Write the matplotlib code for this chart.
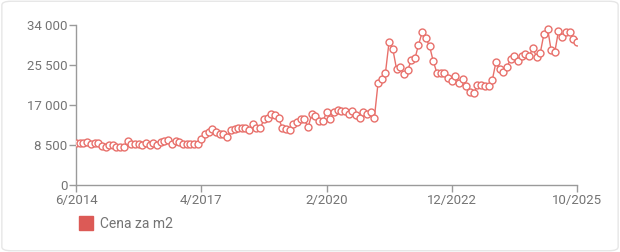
import numpy as np
import pandas as pd
import matplotlib
matplotlib.use('Agg')
import matplotlib.pyplot as plt
import matplotlib.dates as mdates
from matplotlib.lines import Line2D
from matplotlib.patches import FancyBboxPatch

# monthly price per m2, 6/2014 .. 10/2025
prices = [
    9070, 9070, 9070, 9200, 8850, 9000, 9000,                    # 2014
    8360, 8150, 8500, 8500, 8150, 8150, 8150, 9350, 8850, 8850, 8850, 8570,   # 2015
    9070, 8570, 9000, 8570, 9200, 9420, 9700, 8850, 9420, 9200, 8850, 8850,   # 2016
    8710, 8850, 8850, 9900, 11000, 11300, 12000, 11300, 10840, 10840, 10200, 11700,  # 2017
    11900, 12100, 12100, 12100, 11700, 12960, 12100, 12100, 14000, 14200, 15100, 14900,  # 2018
    14200, 12100, 11900, 11700, 12960, 13400, 14000, 14000, 12300, 15100, 14700, 13600,  # 2019
    13600, 15500, 14000, 15500, 15900, 15700, 15700, 15100, 15700, 14900, 14200, 15500,  # 2020
    15100, 15500, 14200, 21700, 22500, 23800, 30400, 28900, 24650, 25100, 23600, 24400,  # 2021
    26560, 27000, 29750, 32500, 31200, 29500, 26350, 23800, 23800, 23800, 22700, 22100,  # 2022
    23160, 21700, 22500, 21000, 19800, 19550, 21250, 21250, 21000, 21000, 22300, 26100,  # 2023
    24650, 24000, 25100, 26800, 27400, 26350, 27400, 27800, 27400, 29100, 27200, 28000,  # 2024
    32100, 33150, 28700, 28300, 32700, 31450, 32500, 32500, 31000, 30400,              # 2025
]
months = pd.date_range('2014-06-01', periods=len(prices), freq='MS')

y_ticks = [0, 8500, 17000, 25500, 34000]
x_tick_dates = pd.to_datetime(['2014-06-01', '2017-04-01', '2020-02-01', '2022-12-01', '2025-10-01'])
x_tick_labels = ['6/2014', '4/2017', '2/2020', '12/2022', '10/2025']
series_name = 'Cena za m2'

line_col = '#e8706b'
legend_col = '#dc5a56'
text_col = '#747474'
axis_col = '#9a9a9a'

plt.rcParams['font.family'] = ['Roboto', 'DejaVu Sans']

fig = plt.figure(figsize=(6.2, 2.52), dpi=100)
fig.patch.set_facecolor('white')
card = FancyBboxPatch((0.003, 0.005), 0.994, 0.99, boxstyle='round,pad=0,rounding_size=0.015',
                      transform=fig.transFigure, facecolor='none', edgecolor='#e6e6e6',
                      linewidth=1, zorder=-1)
fig.patches.append(card)

ax = fig.add_axes([0.1226, 0.2639, 0.808, 0.637])
ax.patch.set_alpha(0)
ax.plot(months, prices, color=line_col, linewidth=1.0, marker='o', markersize=5,
        markerfacecolor='white', markeredgecolor=line_col, markeredgewidth=1.0, zorder=3)

ax.set_ylim(0, 34000)
ax.set_xlim(months[0], months[-1])
ax.set_yticks(y_ticks)
ax.set_yticklabels([f'{v:,}'.replace(',', ' ') for v in y_ticks])
ax.set_xticks(mdates.date2num(x_tick_dates))
ax.set_xticklabels(x_tick_labels)

for side in ['top', 'right']:
    ax.spines[side].set_visible(False)
for side in ['left', 'bottom']:
    ax.spines[side].set_color(axis_col)
    ax.spines[side].set_linewidth(1.0)
ax.tick_params(colors=axis_col, labelcolor=text_col, labelsize=9.5, length=5, width=1, pad=1)
ax.spines['bottom'].set_zorder(5)

handle = Line2D([], [], marker='s', linestyle='none', markersize=10,
                markerfacecolor=legend_col, markeredgecolor=legend_col)
fig.legend([handle], [series_name], loc='center left', bbox_to_anchor=(0.108, 0.112),
           frameon=False, fontsize=10, handletextpad=0.5, labelcolor=text_col, handlelength=1.0)

fig.savefig('out.png', dpi=100, facecolor='white')
